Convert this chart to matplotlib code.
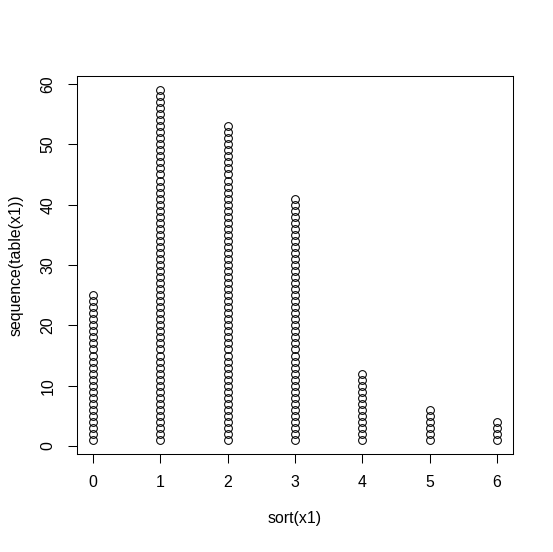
import matplotlib
matplotlib.use("Agg")
import matplotlib.pyplot as plt
import numpy as np

# table(x1): value -> count
values = [0, 1, 2, 3, 4, 5, 6]
counts = [25, 59, 53, 41, 12, 6, 4]

xs = np.repeat(values, counts)
ys = np.concatenate([np.arange(1, c + 1) for c in counts])

plt.rcParams["font.family"] = ["Liberation Sans", "DejaVu Sans"]
fs = 11.4

fig = plt.figure(figsize=(5.53, 5.52), dpi=100)
ax = fig.add_axes([77 / 553, 1 - 454 / 552, (513 - 77) / 553, (454 - 76) / 552])

ax.plot(xs, ys, linestyle="none", marker="o", markersize=5.6,
        markerfacecolor="none", markeredgecolor="black", markeredgewidth=0.75)

ax.set_xlim(-0.24, 6.24)
ax.set_ylim(-1.32, 61.32)
ax.set_xticks(values)
ax.set_yticks(range(0, 61, 10))
ax.set_yticklabels([str(v) for v in range(0, 61, 10)], rotation=90, va="center")
ax.tick_params(direction="out", length=6.5, width=0.75, labelsize=fs)
ax.tick_params(axis="x", pad=8.5)
ax.tick_params(axis="y", pad=9)

for s in ax.spines.values():
    s.set_linewidth(0.75)

ax.set_xlabel("sort(x1)", fontsize=fs, labelpad=15.5)
ax.set_ylabel("sequence(table(x1))", fontsize=fs, labelpad=12)

fig.savefig("out.png", dpi=100)
